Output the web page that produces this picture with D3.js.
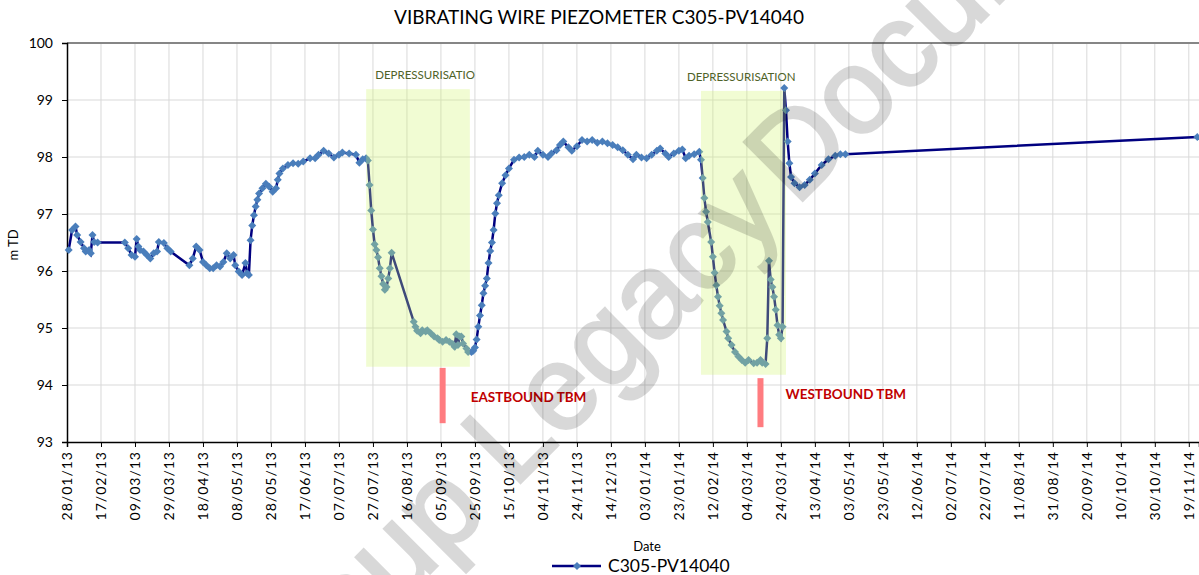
<!DOCTYPE html>
<html>
<head>
<meta charset="utf-8">
<script src="https://cdn.jsdelivr.net/npm/d3@7"></script>
<style>
body { margin: 0; background: #fff; }
text { font-family: Lato, sans-serif; }
</style>
</head>
<body>
<script>
var seriesName = "C305-PV14040";

// readings, dd/mm/yy and level in m TD
var dates = [
    "29/01/13","31/01/13","02/02/13","03/02/13","05/02/13","07/02/13","08/02/13","10/02/13","11/02/13","12/02/13",
    "13/02/13","15/02/13","03/03/13","05/03/13","07/03/13","09/03/13","10/03/13","11/03/13","12/03/13","14/03/13",
    "16/03/13","18/03/13","20/03/13","22/03/13","23/03/13","26/03/13","28/03/13","30/03/13","10/04/13","12/04/13",
    "14/04/13","16/04/13","18/04/13","20/04/13","22/04/13","24/04/13","26/04/13","28/04/13","30/04/13","02/05/13",
    "04/05/13","06/05/13","07/05/13","09/05/13","11/05/13","13/05/13","14/05/13","15/05/13","16/05/13","17/05/13",
    "18/05/13","19/05/13","20/05/13","21/05/13","23/05/13","25/05/13","27/05/13","29/05/13","31/05/13","01/06/13",
    "02/06/13","04/06/13","07/06/13","10/06/13","13/06/13","16/06/13","20/06/13","23/06/13","25/06/13","28/06/13",
    "01/07/13","04/07/13","07/07/13","09/07/13","13/07/13","17/07/13","19/07/13","21/07/13","23/07/13","24/07/13",
    "25/07/13","26/07/13","27/07/13","28/07/13","29/07/13","30/07/13","31/07/13","01/08/13","02/08/13","03/08/13",
    "04/08/13","05/08/13","06/08/13","07/08/13","20/08/13","21/08/13","22/08/13","24/08/13","25/08/13","27/08/13",
    "28/08/13","30/08/13","01/09/13","03/09/13","04/09/13","06/09/13","08/09/13","10/09/13","12/09/13","13/09/13",
    "14/09/13","15/09/13","16/09/13","17/09/13","18/09/13","20/09/13","21/09/13","23/09/13","24/09/13","25/09/13",
    "26/09/13","27/09/13","28/09/13","29/09/13","30/09/13","01/10/13","02/10/13","03/10/13","04/10/13","05/10/13",
    "06/10/13","07/10/13","08/10/13","09/10/13","11/10/13","13/10/13","15/10/13","18/10/13","21/10/13","24/10/13",
    "27/10/13","30/10/13","01/11/13","04/11/13","07/11/13","09/11/13","12/11/13","14/11/13","16/11/13","19/11/13",
    "21/11/13","24/11/13","27/11/13","30/11/13","03/12/13","06/12/13","09/12/13","12/12/13","15/12/13","18/12/13",
    "21/12/13","24/12/13","27/12/13","29/12/13","01/01/14","04/01/14","07/01/14","10/01/14","12/01/14","15/01/14",
    "17/01/14","20/01/14","23/01/14","25/01/14","27/01/14","29/01/14","01/02/14","04/02/14","05/02/14","06/02/14",
    "07/02/14","08/02/14","09/02/14","11/02/14","12/02/14","13/02/14","14/02/14","15/02/14","16/02/14","17/02/14",
    "18/02/14","20/02/14","21/02/14","23/02/14","25/02/14","27/02/14","01/03/14","03/03/14","05/03/14","08/03/14",
    "10/03/14","12/03/14","13/03/14","15/03/14","16/03/14","17/03/14","18/03/14","19/03/14","20/03/14","21/03/14",
    "22/03/14","23/03/14","24/03/14","25/03/14","26/03/14","27/03/14","28/03/14","29/03/14","30/03/14","01/04/14",
    "04/04/14","07/04/14","10/04/14","13/04/14","17/04/14","21/04/14","25/04/14","28/04/14","01/05/14","24/11/14"
];
var levels = [
    96.37,96.72,96.78,96.63,96.51,96.40,96.34,96.37,96.31,96.63,
    96.51,96.50,96.50,96.40,96.28,96.25,96.56,96.43,96.37,96.34,
    96.28,96.22,96.31,96.34,96.51,96.49,96.40,96.34,96.10,96.22,
    96.43,96.37,96.16,96.10,96.05,96.05,96.10,96.08,96.16,96.31,
    96.22,96.28,96.10,95.99,95.93,96.14,95.96,95.93,96.54,96.80,
    96.98,97.13,97.25,97.36,97.45,97.53,97.48,97.39,97.45,97.60,
    97.71,97.80,97.86,97.89,97.88,97.92,97.98,97.98,98.04,98.11,
    98.06,97.99,98.04,98.08,98.06,98.04,97.90,97.96,97.98,97.94,
    97.51,97.06,96.73,96.47,96.37,96.24,96.05,95.91,95.77,95.67,
    95.72,95.87,96.05,96.32,95.11,95.02,94.95,94.91,94.96,94.94,
    94.96,94.91,94.85,94.82,94.79,94.76,94.79,94.76,94.72,94.67,
    94.89,94.70,94.85,94.85,94.73,94.64,94.58,94.58,94.60,94.66,
    94.80,95.02,95.22,95.40,95.61,95.74,95.87,96.14,96.35,96.50,
    96.72,97.01,97.19,97.33,97.54,97.68,97.80,97.95,97.99,98.00,
    98.04,98.00,98.11,98.04,98.00,98.06,98.12,98.21,98.27,98.17,
    98.11,98.19,98.30,98.27,98.30,98.25,98.27,98.24,98.21,98.17,
    98.12,98.04,97.96,98.04,97.99,97.98,98.04,98.11,98.15,98.06,
    98.00,98.06,98.11,98.13,97.98,98.02,98.05,98.09,97.95,97.63,
    97.28,97.04,96.86,96.51,96.25,95.97,95.75,95.55,95.39,95.26,
    95.14,94.94,94.82,94.70,94.58,94.50,94.44,94.39,94.44,94.38,
    94.39,94.44,94.39,94.37,94.82,96.18,95.85,95.72,95.55,95.32,
    95.05,94.88,94.82,95.02,99.21,98.82,98.27,97.89,97.65,97.54,
    97.47,97.51,97.60,97.71,97.86,97.96,98.02,98.05,98.05,98.35
];

var tickLabels = [
    "28/01/13","17/02/13","09/03/13","29/03/13","18/04/13","08/05/13","28/05/13","17/06/13","07/07/13","27/07/13",
    "16/08/13","05/09/13","25/09/13","15/10/13","04/11/13","24/11/13","14/12/13","03/01/14","23/01/14","12/02/14",
    "04/03/14","24/03/14","13/04/14","03/05/14","23/05/14","12/06/14","02/07/14","22/07/14","11/08/14","31/08/14",
    "20/09/14","10/10/14","30/10/14","19/11/14"
];
var yTicks = [93, 94, 95, 96, 97, 98, 99, 100];

// annotation boxes / markers (in data units)
var boxStart = ["23/07/13", "05/02/14"];
var boxEnd = ["22/09/13", "27/03/14"];
var boxTop = [99.19, 99.16];
var boxBottom = [94.32, 94.18];
var boxLabels = ["DEPRESSURISATIO", "DEPRESSURISATION"];
var tbmDates = ["06/09/13", "12/03/14"];
var tbmTop = [94.30, 94.12];
var tbmBottom = [93.33, 93.26];
var tbmLabels = ["EASTBOUND TBM", "WESTBOUND TBM"];

var parse = d3.timeParse("%d/%m/%y");
var data = dates.map(function (d, i) {
    return {date: parse(d), v: levels[i]};
});

var W = 1199, H = 575;
var svg = d3.select("body").append("svg")
    .attr("width", W)
    .attr("height", H);

var x = d3.scaleTime()
    .domain([parse("28/01/13"), parse("25/11/14")])
    .range([67, 1199]);
var y = d3.scaleLinear()
    .domain([93, 100])
    .range([442, 43]);

// title
svg.append("text")
    .attr("x", 599).attr("y", 24)
    .attr("text-anchor", "middle")
    .style("font-size", "19px")
    .text("VIBRATING WIRE PIEZOMETER C305-PV14040");

// grid
var tickDates = tickLabels.map(parse);
svg.append("g").selectAll("line")
    .data(tickDates.slice(1))
    .enter().append("line")
    .attr("x1", function (d) { return x(d); })
    .attr("x2", function (d) { return x(d); })
    .attr("y1", y(100)).attr("y2", y(93))
    .attr("stroke", "#d9d9d9");
svg.append("g").selectAll("line")
    .data(yTicks.slice(1, -1))
    .enter().append("line")
    .attr("x1", x.range()[0]).attr("x2", x.range()[1])
    .attr("y1", function (d) { return y(d); })
    .attr("y2", function (d) { return y(d); })
    .attr("stroke", "#d9d9d9");
svg.append("line")
    .attr("x1", x.range()[0]).attr("x2", x.range()[1])
    .attr("y1", y(100)).attr("y2", y(100))
    .attr("stroke", "#868686").attr("stroke-width", 2);

// axes
var yAxis = svg.append("g")
    .attr("transform", "translate(67,0)")
    .call(d3.axisLeft(y).tickValues(yTicks).tickSize(5).tickPadding(9).tickFormat(d3.format("d")));
yAxis.select(".domain").attr("stroke-width", 1.5);
yAxis.selectAll("text").style("font-size", "14px").style("font-family", "Lato, sans-serif");

var xAxis = svg.append("g")
    .attr("transform", "translate(0,442)")
    .call(d3.axisBottom(x).tickValues(tickDates).tickSize(5).tickFormat(d3.timeFormat("%d/%m/%y")));
xAxis.select(".domain").attr("stroke-width", 1.5);
xAxis.selectAll("text")
    .style("font-size", "14px")
    .style("letter-spacing", "1px")
    .style("font-family", "Lato, sans-serif")
    .attr("text-anchor", "end")
    .attr("transform", "rotate(-90)")
    .attr("x", -9).attr("y", 0).attr("dy", "0.35em");

svg.append("text")
    .attr("x", 647).attr("y", 551)
    .attr("text-anchor", "middle")
    .style("font-size", "13px")
    .text("Date");
svg.append("text")
    .attr("transform", "translate(18,245) rotate(-90)")
    .attr("text-anchor", "middle")
    .style("font-size", "13px")
    .text("m TD");

// series
var line = d3.line()
    .x(function (d) { return x(d.date); })
    .y(function (d) { return y(d.v); });
svg.append("path")
    .datum(data)
    .attr("d", line)
    .attr("fill", "none")
    .attr("stroke", "#000080")
    .attr("stroke-width", 2.5);

var diamond = d3.symbol().type(d3.symbolSquare).size(32);
svg.append("g").selectAll("path")
    .data(data)
    .enter().append("path")
    .attr("d", diamond)
    .attr("transform", function (d) { return "translate(" + x(d.date) + "," + y(d.v) + ") rotate(45)"; })
    .attr("fill", "#4a7ebb");

// shaded depressurisation periods (drawn over the series)
boxStart.forEach(function (s, i) {
    var x0 = x(parse(s)), x1 = x(parse(boxEnd[i]));
    svg.append("rect")
        .attr("x", x0).attr("y", y(boxTop[i]))
        .attr("width", x1 - x0)
        .attr("height", y(boxBottom[i]) - y(boxTop[i]))
        .attr("fill", "#d2f56e")
        .attr("fill-opacity", 0.3);
    svg.append("text")
        .attr("x", x0 + (i == 0 ? 9 : -14))
        .attr("y", y(boxTop[i]) - 10)
        .attr("fill", "#4f6228")
        .style("font-size", "11.5px")
        .text(boxLabels[i]);
});

tbmDates.forEach(function (s, i) {
    var xc = x(parse(s));
    svg.append("rect")
        .attr("x", xc - 3).attr("y", y(tbmTop[i]))
        .attr("width", 6)
        .attr("height", y(tbmBottom[i]) - y(tbmTop[i]))
        .attr("fill", "#ff7c80");
    svg.append("text")
        .attr("x", xc + (i == 0 ? 28 : 25))
        .attr("y", y(tbmTop[i]) + (i == 0 ? 34 : 21))
        .attr("fill", "#c00000")
        .style("font-size", "13.5px")
        .style("font-weight", "bold")
        .text(tbmLabels[i]);
});

// legend
var lg = svg.append("g").attr("transform", "translate(552,566)");
lg.append("line").attr("x1", 0).attr("x2", 49).attr("stroke", "#000080").attr("stroke-width", 2.5);
lg.append("path").attr("d", diamond).attr("transform", "translate(25,0) rotate(45)").attr("fill", "#4a7ebb");
lg.append("text").attr("x", 56).attr("y", 6).style("font-size", "17.5px").text(seriesName);

// watermark (semi transparent, on top)
var wm = svg.append("g")
    .attr("transform", "translate(790,213) rotate(-45)")
    .attr("opacity", 0.15)
    .style("pointer-events", "none");
wm.append("text").attr("text-anchor", "end").attr("x", -4)
    .style("font-family", "'Liberation Sans', Arial, sans-serif")
    .style("font-size", "120px")
    .attr("fill", "#000").attr("stroke", "#000").attr("stroke-width", 3)
    .text("Crossrail Group Legacy");
wm.append("text").attr("x", 8)
    .style("font-family", "'Liberation Sans', Arial, sans-serif")
    .style("font-size", "120px")
    .attr("fill", "#000").attr("stroke", "#000").attr("stroke-width", 3)
    .text("Document");
</script>
</body>
</html>
